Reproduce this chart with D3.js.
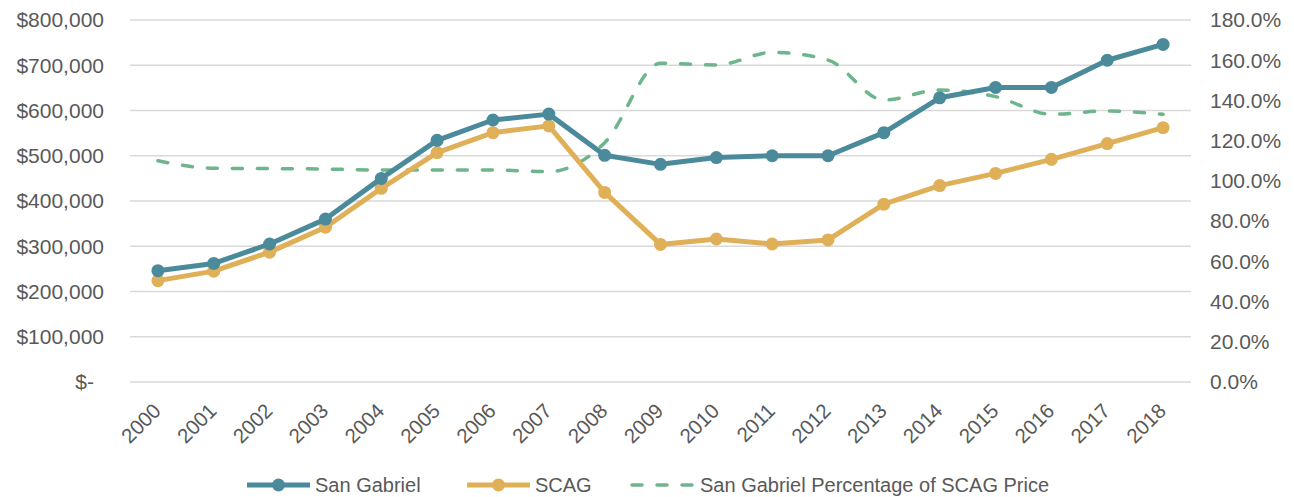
<!DOCTYPE html>
<html><head><meta charset="utf-8">
<script src="https://cdn.jsdelivr.net/npm/d3@7"></script>
<style>
html,body{margin:0;padding:0;background:#fff;}
svg text{font-family:"Liberation Sans",Arial,sans-serif;fill:#595959;}
</style></head>
<body>
<svg id="chart" width="1294" height="497"></svg>
<script>
const years = ["2000","2001","2002","2003","2004","2005","2006","2007","2008","2009","2010","2011","2012","2013","2014","2015","2016","2017","2018"];
const sanGabriel = [246000,262000,305000,360000,450000,534000,579000,592000,501000,481000,496000,500000,500000,551000,628000,651000,651000,711000,746000];
const scag = [224000,245000,287000,342000,428000,507000,551000,566000,419000,304000,316000,305000,314000,393000,434000,461000,492000,527000,562000];
const pctOfScag = [1.100,1.063,1.061,1.059,1.054,1.054,1.054,1.046,1.19,1.585,1.576,1.639,1.601,1.402,1.452,1.419,1.331,1.348,1.331];
const leftTicks = [0,100000,200000,300000,400000,500000,600000,700000,800000];
const rightTicks = [0,0.2,0.4,0.6,0.8,1.0,1.2,1.4,1.6,1.8];
const seriesNames = ["San Gabriel","SCAG","San Gabriel Percentage of SCAG Price"];
const colors = {sg:"#4A8A9B", scag:"#DFB058", pct:"#6DB58C", grid:"#D9D9D9"};

const svg = d3.select("#chart");
const pLeft = 130, pRight = 1191, pTop = 20, pBottom = 382;

const x = d3.scalePoint().domain(years).range([pLeft, pRight]).padding(0.5);
const yL = d3.scaleLinear().domain([0, 800000]).range([pBottom, pTop]);
const yR = d3.scaleLinear().domain([0, 1.8]).range([pBottom, pTop]);

// gridlines
svg.append("g").selectAll("line").data(leftTicks).join("line")
  .attr("x1", pLeft).attr("x2", pRight)
  .attr("y1", d => yL(d)).attr("y2", d => yL(d))
  .attr("stroke", colors.grid).attr("stroke-width", 1.3);

// left axis labels
const fmt = d3.format(",");
svg.append("g").selectAll("text").data(leftTicks).join("text")
  .attr("x", d => d === 0 ? 94 : 104)
  .attr("y", d => yL(d))
  .attr("dy", "0.35em")
  .attr("text-anchor", "end")
  .style("font-size", "21px")
  .text(d => d === 0 ? "$-" : "$" + fmt(d));

// right axis labels
svg.append("g").selectAll("text").data(rightTicks).join("text")
  .attr("x", 1210)
  .attr("y", d => yR(d))
  .attr("dy", "0.35em")
  .attr("text-anchor", "start")
  .style("font-size", "21px")
  .text(d => d3.format(".1%")(d));

// x labels
svg.append("g").selectAll("text").data(years).join("text")
  .attr("transform", d => `translate(${x(d)-6},${pBottom+20}) rotate(-45)`)
  .attr("text-anchor", "end")
  .attr("dy", "0.7em")
  .style("font-size", "20.5px")
  .text(d => d);

// percentage dashed line
const linePct = d3.line().x((d,i) => x(years[i])).y(d => yR(d)).curve(d3.curveMonotoneX);
svg.append("path").datum(pctOfScag)
  .attr("d", linePct).attr("fill","none")
  .attr("stroke", colors.pct).attr("stroke-width", 3.5)
  .attr("stroke-dasharray", "10,15").attr("stroke-linecap","round");

function drawSeries(values, color) {
  const line = d3.line().x((d,i) => x(years[i])).y(d => yL(d));
  svg.append("path").datum(values)
    .attr("d", line).attr("fill","none")
    .attr("stroke", color).attr("stroke-width", 5).attr("stroke-linejoin","round");
  svg.append("g").selectAll("circle").data(values).join("circle")
    .attr("cx", (d,i) => x(years[i])).attr("cy", d => yL(d))
    .attr("r", 6.5).attr("fill", color);
}
drawSeries(scag, colors.scag);
drawSeries(sanGabriel, colors.sg);

// legend
const legend = [
  {name: seriesNames[0], color: colors.sg, x0: 247, dashed: false},
  {name: seriesNames[1], color: colors.scag, x0: 467, dashed: false},
  {name: seriesNames[2], color: colors.pct, x0: 632, dashed: true}
];
const ly = 485;
legend.forEach(l => {
  const g = svg.append("g");
  g.append("line").attr("x1", l.x0).attr("x2", l.x0 + 63).attr("y1", ly).attr("y2", ly)
    .attr("stroke", l.color).attr("stroke-width", l.dashed ? 3.5 : 5)
    .attr("stroke-dasharray", l.dashed ? "10,15" : null)
    .attr("stroke-linecap", l.dashed ? "round" : "butt");
  if (!l.dashed) g.append("circle").attr("cx", l.x0 + 31.5).attr("cy", ly).attr("r", 6.5).attr("fill", l.color);
  g.append("text").attr("x", l.x0 + 68).attr("y", ly).attr("dy","0.35em")
    .style("font-size","20px").text(l.name);
});
</script>
</body></html>
